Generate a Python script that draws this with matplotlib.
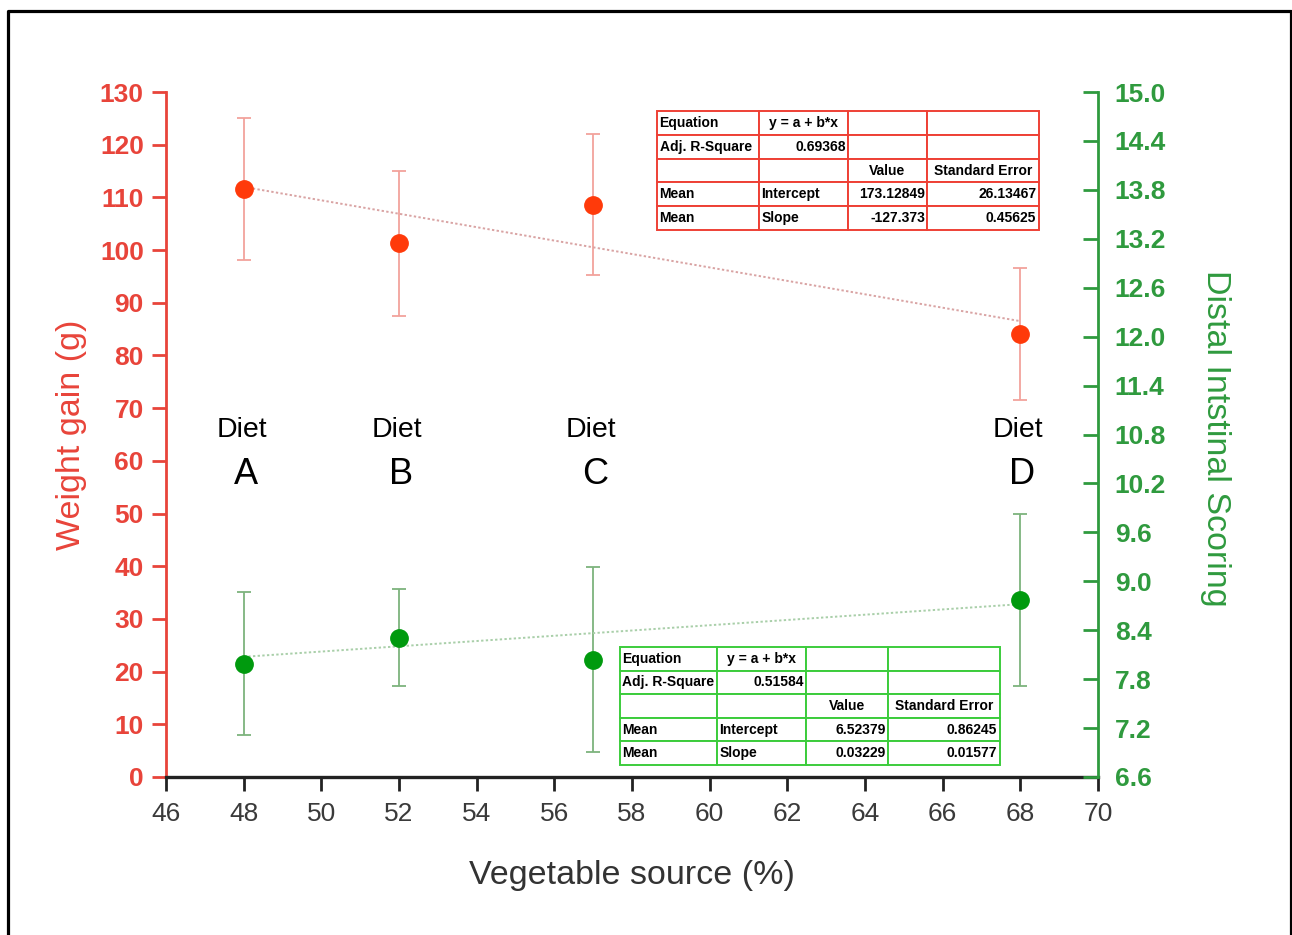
import matplotlib
matplotlib.use("Agg")
import matplotlib.pyplot as plt
from matplotlib.lines import Line2D
import numpy as np

plt.rcParams['font.family'] = ['Liberation Sans', 'DejaVu Sans']

# ---- data ----
veg_source = [48, 52, 57, 68]
diet_names = ["A", "B", "C", "D"]

weight_gain = [111.6, 101.3, 108.6, 84.1]
weight_err = [13.4, 13.8, 13.4, 12.5]

intestinal_score = [7.99, 8.31, 8.04, 8.77]
score_err = [0.88, 0.60, 1.13, 1.05]

# linear fits (intercept, slope)
weight_fit = (173.12849, -1.27373)
score_fit = (6.52379, 0.03229)

weight_table = [
    ["Equation", "y = a + b*x", "", ""],
    ["Adj. R-Square", "0.69368", "", ""],
    ["", "", "Value", "Standard Error"],
    ["Mean", "Intercept", "173.12849", "26.13467"],
    ["Mean", "Slope", "-127.373", "0.45625"],
]
score_table = [
    ["Equation", "y = a + b*x", "", ""],
    ["Adj. R-Square", "0.51584", "", ""],
    ["", "", "Value", "Standard Error"],
    ["Mean", "Intercept", "6.52379", "0.86245"],
    ["Mean", "Slope", "0.03229", "0.01577"],
]

x_ticks = list(range(46, 71, 2))
left_ticks = list(range(0, 131, 10))
right_ticks = [6.6, 7.2, 7.8, 8.4, 9.0, 9.6, 10.2, 10.8, 11.4, 12.0, 12.6, 13.2, 13.8, 14.4, 15.0]

# ---- style ----
RED_AXIS = "#e8443a"
RED_MARK = "#ff3a0a"
RED_ERR = "#f2a29c"
RED_FIT = "#d9a3a3"
GREEN_AXIS = "#2f9a3e"
GREEN_MARK = "#009a0e"
GREEN_ERR = "#7db37d"
GREEN_FIT = "#a9cfa9"
RED_TABLE = "#ee4035"
GREEN_TABLE = "#3ccc3c"

fig = plt.figure(figsize=(12.92, 9.35), dpi=100)
ax = fig.add_axes([166 / 1292, 1 - 777 / 935, 932 / 1292, 685 / 935])
ax2 = ax.twinx()

# weight gain (left axis)
ax.errorbar(veg_source, weight_gain, yerr=weight_err, fmt="none",
            ecolor=RED_ERR, elinewidth=1.3, capsize=4.8, capthick=1.3, zorder=2)
ax.plot(veg_source, weight_gain, "o", color=RED_MARK, markersize=12.5, zorder=4)
xf = np.array([veg_source[0], veg_source[-1]])
ax.plot(xf, weight_fit[0] + weight_fit[1] * xf, linestyle=(0, (1.2, 1.2)),
        color=RED_FIT, lw=1.4, zorder=3)

# intestinal score (right axis)
ax2.errorbar(veg_source, intestinal_score, yerr=score_err, fmt="none",
             ecolor=GREEN_ERR, elinewidth=1.3, capsize=4.8, capthick=1.3, zorder=2)
ax2.plot(veg_source, intestinal_score, "o", color=GREEN_MARK, markersize=12.5, zorder=4)
ax2.plot(xf, score_fit[0] + score_fit[1] * xf, linestyle=(0, (1.2, 1.2)),
         color=GREEN_FIT, lw=1.4, zorder=3)

# axes limits and ticks
ax.set_xlim(46, 70)
ax.set_ylim(0, 130)
ax2.set_ylim(6.6, 15.0)
ax.set_xticks(x_ticks)
ax.set_yticks(left_ticks)
ax2.set_yticks(right_ticks)
ax2.set_yticklabels([f"{v:.1f}" for v in right_ticks])

for s in ["top", "right"]:
    ax.spines[s].set_visible(False)
for s in ["top", "left", "bottom"]:
    ax2.spines[s].set_visible(False)
ax.spines["left"].set_color(RED_AXIS)
ax.spines["left"].set_linewidth(2.0)
ax.spines["bottom"].set_color("#222222")
ax.spines["bottom"].set_linewidth(2.4)
ax2.spines["right"].set_color(GREEN_AXIS)
ax2.spines["right"].set_linewidth(2.0)

ax.tick_params(axis="y", direction="out", length=10, width=2, colors=RED_AXIS,
               labelsize=19, pad=6)
for t in ax.get_yticklabels():
    t.set_fontweight("bold")
ax.tick_params(axis="x", direction="out", length=10, width=2, color="#222222",
               labelcolor="#3a3a3a", labelsize=19, pad=8)
ax2.tick_params(axis="y", direction="in", length=11, width=2, colors=GREEN_AXIS,
                labelsize=19, pad=12)
for t in ax2.get_yticklabels():
    t.set_fontweight("bold")

ax.set_xlabel("Vegetable source (%)", fontsize=24.5, color="#333333")
ax.set_ylabel("Weight gain (g)", fontsize=24.5, color=RED_AXIS)
ax2.set_ylabel("Distal Intstinal Scoring", fontsize=24.5, color=GREEN_AXIS,
               rotation=270, va="top")
ax2.yaxis.set_label_coords(1.143, 0.495)
ax.yaxis.set_label_coords(-0.085, 0.5)
ax.xaxis.set_label_coords(0.50, -0.121)

# diet annotations
for xv, name in zip(veg_source, diet_names):
    ax.text(xv - 0.05, 65.9, "Diet", ha="center", va="center", fontsize=20.5, color="black")
    ax.text(xv + 0.05, 57.4, name, ha="center", va="center", fontsize=26, color="black")


def add_fit_table(axis, rows, bbox, col_widths, edge):
    tbl = axis.table(cellText=rows, bbox=bbox, colWidths=col_widths,
                     cellLoc="left", transform=ax.transAxes)
    tbl.auto_set_font_size(False)
    tbl.set_fontsize(10)
    for (r, c), cell in tbl.get_celld().items():
        cell.set_edgecolor(edge)
        cell.set_linewidth(1.4)
        cell.set_facecolor("white")
        cell.PAD = 0.025
        txt = cell.get_text()
        txt.set_fontweight("bold")
        txt.set_color("black")
        if (r, c) == (0, 1) or r == 2:
            txt.set_ha("center")
        elif (r, c) == (1, 1) or (r >= 3 and c >= 2):
            txt.set_ha("right")
        else:
            txt.set_ha("left")
    tbl.set_zorder(6)
    return tbl


add_fit_table(ax2, weight_table, [0.5268, 0.7985, 0.4099, 0.1738],
              [102, 89, 79, 112], RED_TABLE)
add_fit_table(ax2, score_table, [0.4871, 0.0175, 0.4077, 0.1723],
              [97, 89, 82, 112], GREEN_TABLE)

# outer frame
x0, x1, ytop = 7.5 / 1292, 1290.5 / 1292, 1 - 10.5 / 935
fig.add_artist(Line2D([x0, x0, x1, x1], [0, ytop, ytop, 0], color="black",
                      lw=2.3, transform=fig.transFigure))

fig.savefig("out.png", dpi=100, facecolor="white")
